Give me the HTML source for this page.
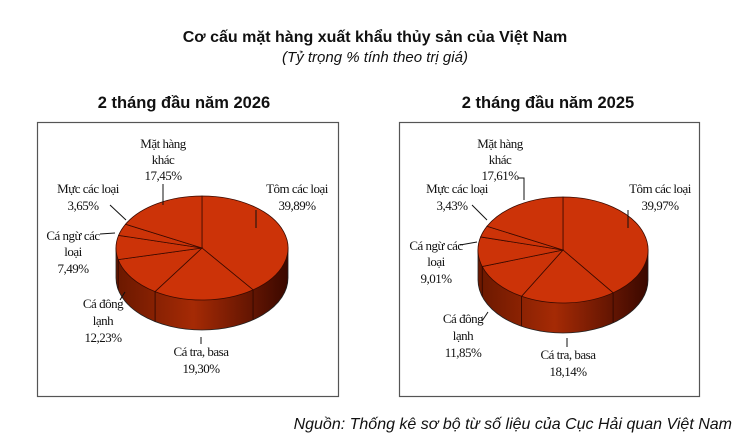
<!DOCTYPE html>
<html><head><meta charset="utf-8"><style>
body{margin:0;background:#fff;width:750px;height:443px;overflow:hidden;font-family:"Liberation Sans",sans-serif}
svg{position:absolute;left:0;top:0}
.t{font-family:"Liberation Serif",serif;font-size:13px;fill:#111;text-anchor:middle;letter-spacing:-0.5px}
</style></head><body>
<svg width="750" height="443" viewBox="0 0 750 443" xmlns="http://www.w3.org/2000/svg">
<defs>
<linearGradient id="sd" x1="0" x2="1" y1="0" y2="0">
<stop offset="0" stop-color="#6a1800"/><stop offset="0.45" stop-color="#a52a05"/><stop offset="1" stop-color="#3a0800"/>
</linearGradient>
</defs>
<text x="375" y="42" font-size="16" font-weight="bold" text-anchor="middle" fill="#111">Cơ cấu mặt hàng xuất khẩu thủy sản của Việt Nam</text>
<text x="375" y="62" font-size="15" font-style="italic" text-anchor="middle" fill="#111">(Tỷ trọng % tính theo trị giá)</text>
<text x="184" y="108" font-size="16.5" font-weight="bold" text-anchor="middle" fill="#111">2 tháng đầu năm 2026</text>
<text x="548" y="108" font-size="16.5" font-weight="bold" text-anchor="middle" fill="#111">2 tháng đầu năm 2025</text>
<rect x="37.5" y="122.5" width="301" height="274" fill="none" stroke="#555" stroke-width="1.2"/>
<rect x="399.5" y="122.5" width="300" height="274" fill="none" stroke="#555" stroke-width="1.2"/>
<g id="p1"></g><g id="p2"></g>
<g class="t">
<text class="t" x="163" y="148">Mặt hàng</text><text class="t" x="163" y="164">khác</text><text class="t" x="163" y="180">17,45%</text>
<text class="t" x="297" y="193">Tôm các loại</text><text class="t" x="297" y="210">39,89%</text>
<text class="t" x="88" y="193">Mực các loại</text><text class="t" x="83" y="210">3,65%</text>
<text class="t" x="73" y="240">Cá ngừ các</text><text class="t" x="73" y="256">loại</text><text class="t" x="73" y="273">7,49%</text>
<text class="t" x="103" y="308">Cá đông</text><text class="t" x="103" y="325">lạnh</text><text class="t" x="103" y="342">12,23%</text>
<text class="t" x="201" y="356">Cá tra, basa</text><text class="t" x="201" y="373">19,30%</text>
<text class="t" x="500" y="148">Mặt hàng</text><text class="t" x="500" y="164">khác</text><text class="t" x="500" y="180">17,61%</text>
<text class="t" x="660" y="193">Tôm các loại</text><text class="t" x="660" y="210">39,97%</text>
<text class="t" x="457" y="193">Mực các loại</text><text class="t" x="452" y="210">3,43%</text>
<text class="t" x="436" y="250">Cá ngừ các</text><text class="t" x="436" y="266">loại</text><text class="t" x="436" y="283">9,01%</text>
<text class="t" x="463" y="323">Cá đông</text><text class="t" x="463" y="340">lạnh</text><text class="t" x="463" y="357">11,85%</text>
<text class="t" x="568" y="359">Cá tra, basa</text><text class="t" x="568" y="376">18,14%</text>
</g>
<g stroke="#111" stroke-width="1" fill="none">
<path d="M163 184 V 205"/><path d="M256 210 V 228"/><path d="M110 205 L 126 220"/><path d="M100 234 L 115 233"/><path d="M120 300 L 125 292"/><path d="M201 344 V 337"/>
<path d="M518 178 H 524 V 200"/><path d="M628 210 V 228"/><path d="M472 205 L 487 220"/><path d="M460 245 L 477 242"/><path d="M482 321 L 488 312"/><path d="M567 347 V 338"/>
</g>
<text x="732" y="429" font-size="16" font-style="italic" text-anchor="end" fill="#111">Nguồn: Thống kê sơ bộ từ số liệu của Cục Hải quan Việt Nam</text>
</svg>
<script>
function pie(id,cx,cy,rx,ry,d,vals){
 var g=document.getElementById(id),h="";
 function P(a){return [cx+rx*Math.sin(a),cy-ry*Math.cos(a)];}
 h+='<path d="M'+(cx-rx)+' '+cy+' V '+(cy+d)+' A '+rx+' '+ry+' 0 0 0 '+(cx+rx)+' '+(cy+d)+' V '+cy+' Z" fill="url(#sd)" stroke="#222" stroke-width="0.8"/>';
 var a=0,tot=0;vals.forEach(function(v){tot+=v});
 vals.forEach(function(v){
  var b=a+v/tot*2*Math.PI,p=P(a),q=P(b),lg=(b-a)>Math.PI?1:0;
  h+='<path d="M'+cx+' '+cy+' L'+p[0]+' '+p[1]+' A '+rx+' '+ry+' 0 '+lg+' 1 '+q[0]+' '+q[1]+' Z" fill="#cc3308" stroke="#3a0a00" stroke-width="0.8"/>';
  if(Math.cos(b)<0){h+='<path d="M'+q[0]+' '+q[1]+' V '+(q[1]+d)+'" stroke="#2a0600" stroke-width="0.8"/>';}
  a=b;});
 g.innerHTML=h;}
pie("p1",202,248,86,52,30,[39.89,19.30,12.23,7.49,3.65,17.45]);
pie("p2",563,250,85,53,30,[39.97,18.14,11.85,9.01,3.43,17.61]);
</script>
</body></html>
